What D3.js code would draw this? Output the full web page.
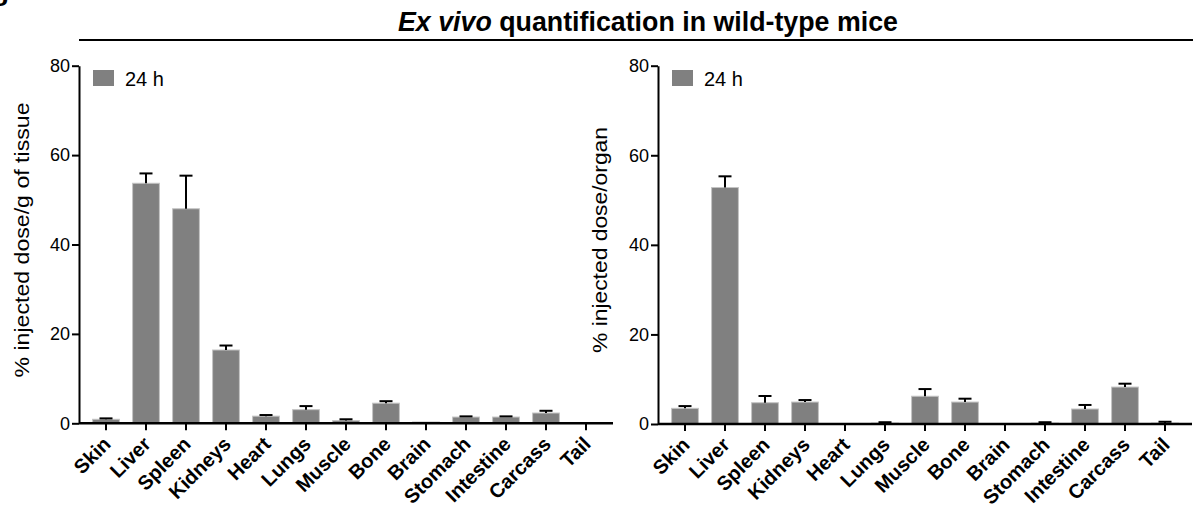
<!DOCTYPE html>
<html>
<head>
<meta charset="utf-8">
<title>Ex vivo quantification</title>
<script src="https://d3js.org/d3.v7.min.js"></script>
<style>
  body { margin: 0; background: #fff; }
  svg { display: block; font-family: "Liberation Sans", Arial, sans-serif; }
  .axis path, .axis line { stroke: #000; stroke-width: 2; }
  .axis text { fill: #000; }
</style>
</head>
<body>
<div id="chart"></div>
<script>
var organs = ["Skin", "Liver", "Spleen", "Kidneys", "Heart", "Lungs", "Muscle",
              "Bone", "Brain", "Stomach", "Intestine", "Carcass", "Tail"];

// % injected dose / g of tissue
var perGram    = [0.9, 53.7, 48.0, 16.4, 1.6, 3.05, 0.6, 4.5, 0.3, 1.4, 1.4, 2.3, 0.05];
var perGramErr = [0.2, 2.2, 7.4, 1.0, 0.25, 0.8, 0.3, 0.45, 0.0, 0.15, 0.15, 0.5, 0.0];

// % injected dose / organ
var perOrgan    = [3.5, 52.8, 4.75, 4.9, 0.1, 0.2, 6.2, 4.9, 0.05, 0.2, 3.35, 8.25, 0.2];
var perOrganErr = [0.5, 2.5, 1.5, 0.45, 0.0, 0.2, 1.6, 0.75, 0.0, 0.2, 0.9, 0.75, 0.3];

var yTicks = [0, 20, 40, 60, 80];
var legendLabel = "24 h";

var W = 1193, H = 510;
var svg = d3.select("#chart").append("svg").attr("width", W).attr("height", H);

// panel letter, cropped by the top edge like in the figure
svg.append("text").attr("x", -8).attr("y", 0)
  .attr("font-size", 28).attr("font-weight", "bold").text("g");

// title + rule
var title = svg.append("text")
  .attr("x", 398).attr("y", 31)
  .attr("font-size", 28).attr("font-weight", "bold")
  .attr("textLength", 500).attr("lengthAdjust", "spacingAndGlyphs");
title.append("tspan").attr("font-style", "italic").text("Ex vivo");
title.append("tspan").text(" quantification in wild-type mice");

svg.append("line").attr("x1", 79).attr("x2", W).attr("y1", 40).attr("y2", 40)
  .attr("stroke", "#000").attr("stroke-width", 2);

function panel(opt) {
  var g = svg.append("g");
  var x0 = opt.axisX;

  var y = d3.scaleLinear().domain([0, 80]).range([opt.y0, opt.y80]);
  var x = d3.scaleBand().domain(organs)
    .range([x0 + 7, x0 + 7 + organs.length * 40])
    .paddingInner(0.33).paddingOuter(0.165);

  // bars
  g.selectAll(".bar").data(opt.values).enter().append("rect")
    .attr("class", "bar")
    .attr("x", function(d, i) { return x(organs[i]); })
    .attr("width", x.bandwidth())
    .attr("y", function(d) { return y(d); })
    .attr("height", function(d) { return y(0) - y(d); })
    .attr("fill", "#808080")
    .attr("stroke", "#c4c4c4").attr("stroke-width", 1);

  // error bars, upper half only
  opt.values.forEach(function(v, i) {
    if (opt.errs[i] <= 0) return;
    var cx = x(organs[i]) + x.bandwidth() / 2;
    var top = y(v + opt.errs[i]);
    g.append("line")
      .attr("x1", cx).attr("x2", cx).attr("y1", y(v)).attr("y2", top)
      .attr("stroke", "#000").attr("stroke-width", 2);
    g.append("line")
      .attr("x1", cx - 6.5).attr("x2", cx + 6.5).attr("y1", top).attr("y2", top)
      .attr("stroke", "#000").attr("stroke-width", 2);
  });

  // y axis
  var ya = g.append("g").attr("class", "axis")
    .attr("transform", "translate(" + x0 + ",0)")
    .call(d3.axisLeft(y).tickValues(yTicks).tickSize(7).tickSizeOuter(0).tickPadding(2));
  ya.selectAll("text").attr("font-size", 18).attr("font-family", "Liberation Sans, Arial, sans-serif");

  // x axis
  g.append("line").attr("x1", x0).attr("x2", x0 + 14 + organs.length * 40)
    .attr("y1", y(0)).attr("y2", y(0))
    .attr("stroke", "#000").attr("stroke-width", 2.5);
  var xa = g.append("g").attr("class", "axis")
    .attr("transform", "translate(0," + y(0) + ")")
    .call(d3.axisBottom(x).tickSize(7).tickSizeOuter(0));
  xa.select(".domain").remove();
  xa.selectAll("text")
    .attr("x", 0).attr("y", 0).attr("dy", 0)
    .attr("text-anchor", "end")
    .attr("transform", "translate(6,22) rotate(-45)")
    .attr("font-size", 20).attr("font-weight", "bold")
    .attr("font-family", "Liberation Sans, Arial, sans-serif");

  // y label
  svg.append("text")
    .attr("transform", "translate(" + opt.labelX + "," + opt.labelY + ") rotate(-90)")
    .attr("text-anchor", "middle")
    .attr("font-size", 21)
    .attr("textLength", opt.labelLen).attr("lengthAdjust", "spacingAndGlyphs")
    .text(opt.label);

  // legend
  g.append("rect").attr("x", x0 + 14).attr("y", 70).attr("width", 21).attr("height", 16)
    .attr("fill", "#808080");
  g.append("text").attr("x", x0 + 46).attr("y", 85.5)
    .attr("font-size", 20).text(legendLabel);
}

panel({ axisX: 79, y0: 423.3, y80: 65.7, values: perGram, errs: perGramErr,
        label: "% injected dose/g of tissue", labelX: 29, labelY: 240, labelLen: 275 });
panel({ axisX: 658, y0: 424, y80: 65.7, values: perOrgan, errs: perOrganErr,
        label: "% injected dose/organ", labelX: 607, labelY: 240, labelLen: 226 });
</script>
</body>
</html>
